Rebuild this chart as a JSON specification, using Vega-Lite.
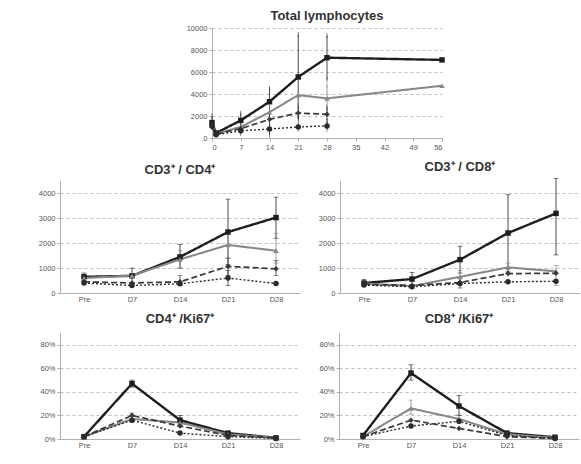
{
  "$schema": "https://vega.github.io/schema/vega-lite/v6.json",
  "padding": {"left": 38, "top": 10, "right": 0, "bottom": 0},
  "background": "white",
  "datasets": {
    "total": [
      {"series": "s1", "day": 0, "value": 1400, "lo": 1000, "hi": 2000},
      {"series": "s1", "day": 1, "value": 450},
      {"series": "s1", "day": 7, "value": 1600, "lo": 1000, "hi": 2250},
      {"series": "s1", "day": 14, "value": 3300, "lo": 2100, "hi": 4500},
      {"series": "s1", "day": 21, "value": 5550, "lo": 1800, "hi": 9400},
      {"series": "s1", "day": 28, "value": 7300, "lo": 5300, "hi": 9300},
      {"series": "s1", "day": 56, "value": 7100},
      {"series": "s2", "day": 0, "value": 1200},
      {"series": "s2", "day": 1, "value": 400},
      {"series": "s2", "day": 7, "value": 1000, "lo": 700, "hi": 1400},
      {"series": "s2", "day": 14, "value": 2350, "lo": 1500, "hi": 3100},
      {"series": "s2", "day": 21, "value": 3900, "lo": 3000, "hi": 4800},
      {"series": "s2", "day": 28, "value": 3600, "lo": 2400, "hi": 4800},
      {"series": "s2", "day": 56, "value": 4750},
      {"series": "s3", "day": 0, "value": 1000},
      {"series": "s3", "day": 1, "value": 350},
      {"series": "s3", "day": 7, "value": 850, "lo": 600, "hi": 1100},
      {"series": "s3", "day": 14, "value": 1700, "lo": 1100, "hi": 2300},
      {"series": "s3", "day": 21, "value": 2270, "lo": 1700, "hi": 2900},
      {"series": "s3", "day": 28, "value": 2150, "lo": 1600, "hi": 2800},
      {"series": "s4", "day": 0, "value": 1100},
      {"series": "s4", "day": 1, "value": 300},
      {"series": "s4", "day": 7, "value": 650, "lo": 400, "hi": 900},
      {"series": "s4", "day": 14, "value": 820, "lo": 300, "hi": 1300},
      {"series": "s4", "day": 21, "value": 1000, "lo": 800, "hi": 1300},
      {"series": "s4", "day": 28, "value": 1100, "lo": 800, "hi": 1500}
    ],
    "cd4": [
      {"series": "s1", "day": "Pre", "value": 650, "lo": 500, "hi": 800},
      {"series": "s1", "day": "D7", "value": 690, "lo": 400, "hi": 1000},
      {"series": "s1", "day": "D14", "value": 1450, "lo": 1000, "hi": 1950},
      {"series": "s1", "day": "D21", "value": 2450, "lo": 1150, "hi": 3770},
      {"series": "s1", "day": "D28", "value": 3030, "lo": 2200, "hi": 3850},
      {"series": "s2", "day": "Pre", "value": 600},
      {"series": "s2", "day": "D7", "value": 700},
      {"series": "s2", "day": "D14", "value": 1350, "lo": 1000, "hi": 1700},
      {"series": "s2", "day": "D21", "value": 1930, "lo": 1400, "hi": 2500},
      {"series": "s2", "day": "D28", "value": 1700, "lo": 1200, "hi": 2400},
      {"series": "s3", "day": "Pre", "value": 450},
      {"series": "s3", "day": "D7", "value": 400},
      {"series": "s3", "day": "D14", "value": 450, "lo": 300, "hi": 700},
      {"series": "s3", "day": "D21", "value": 1070, "lo": 700, "hi": 1400},
      {"series": "s3", "day": "D28", "value": 970, "lo": 700, "hi": 1300},
      {"series": "s4", "day": "Pre", "value": 400},
      {"series": "s4", "day": "D7", "value": 300},
      {"series": "s4", "day": "D14", "value": 370},
      {"series": "s4", "day": "D21", "value": 600, "lo": 300, "hi": 900},
      {"series": "s4", "day": "D28", "value": 380}
    ],
    "cd8": [
      {"series": "s1", "day": "Pre", "value": 400, "lo": 300, "hi": 550},
      {"series": "s1", "day": "D7", "value": 560, "lo": 300, "hi": 830},
      {"series": "s1", "day": "D14", "value": 1340, "lo": 800, "hi": 1880},
      {"series": "s1", "day": "D21", "value": 2410, "lo": 850, "hi": 3950},
      {"series": "s1", "day": "D28", "value": 3200, "lo": 1530, "hi": 4600},
      {"series": "s2", "day": "Pre", "value": 380},
      {"series": "s2", "day": "D7", "value": 280},
      {"series": "s2", "day": "D14", "value": 650, "lo": 300, "hi": 900},
      {"series": "s2", "day": "D21", "value": 1030, "lo": 800, "hi": 1200},
      {"series": "s2", "day": "D28", "value": 870, "lo": 300, "hi": 1100},
      {"series": "s3", "day": "Pre", "value": 350},
      {"series": "s3", "day": "D7", "value": 300},
      {"series": "s3", "day": "D14", "value": 420, "lo": 200, "hi": 600},
      {"series": "s3", "day": "D21", "value": 780},
      {"series": "s3", "day": "D28", "value": 790},
      {"series": "s4", "day": "Pre", "value": 320},
      {"series": "s4", "day": "D7", "value": 250},
      {"series": "s4", "day": "D14", "value": 380},
      {"series": "s4", "day": "D21", "value": 450},
      {"series": "s4", "day": "D28", "value": 470}
    ],
    "ki4": [
      {"series": "s1", "day": "Pre", "value": 0.02},
      {"series": "s1", "day": "D7", "value": 0.47, "lo": 0.44, "hi": 0.50},
      {"series": "s1", "day": "D14", "value": 0.16, "lo": 0.12, "hi": 0.20},
      {"series": "s1", "day": "D21", "value": 0.05},
      {"series": "s1", "day": "D28", "value": 0.01},
      {"series": "s2", "day": "Pre", "value": 0.02},
      {"series": "s2", "day": "D7", "value": 0.17, "lo": 0.14, "hi": 0.21},
      {"series": "s2", "day": "D14", "value": 0.14},
      {"series": "s2", "day": "D21", "value": 0.04},
      {"series": "s2", "day": "D28", "value": 0.01},
      {"series": "s3", "day": "Pre", "value": 0.02},
      {"series": "s3", "day": "D7", "value": 0.20, "lo": 0.17, "hi": 0.22},
      {"series": "s3", "day": "D14", "value": 0.11},
      {"series": "s3", "day": "D21", "value": 0.03},
      {"series": "s3", "day": "D28", "value": 0.01},
      {"series": "s4", "day": "Pre", "value": 0.02},
      {"series": "s4", "day": "D7", "value": 0.16},
      {"series": "s4", "day": "D14", "value": 0.05},
      {"series": "s4", "day": "D21", "value": 0.02},
      {"series": "s4", "day": "D28", "value": 0.005}
    ],
    "ki8": [
      {"series": "s1", "day": "Pre", "value": 0.03},
      {"series": "s1", "day": "D7", "value": 0.56, "lo": 0.50, "hi": 0.63},
      {"series": "s1", "day": "D14", "value": 0.28, "lo": 0.20, "hi": 0.37},
      {"series": "s1", "day": "D21", "value": 0.05},
      {"series": "s1", "day": "D28", "value": 0.015},
      {"series": "s2", "day": "Pre", "value": 0.02},
      {"series": "s2", "day": "D7", "value": 0.26, "lo": 0.21, "hi": 0.33},
      {"series": "s2", "day": "D14", "value": 0.17, "lo": 0.13, "hi": 0.21},
      {"series": "s2", "day": "D21", "value": 0.04},
      {"series": "s2", "day": "D28", "value": 0.01},
      {"series": "s3", "day": "Pre", "value": 0.02},
      {"series": "s3", "day": "D7", "value": 0.16},
      {"series": "s3", "day": "D14", "value": 0.09},
      {"series": "s3", "day": "D21", "value": 0.02},
      {"series": "s3", "day": "D28", "value": 0.005},
      {"series": "s4", "day": "Pre", "value": 0.02},
      {"series": "s4", "day": "D7", "value": 0.11},
      {"series": "s4", "day": "D14", "value": 0.15},
      {"series": "s4", "day": "D21", "value": 0.03},
      {"series": "s4", "day": "D28", "value": 0.005}
    ]
  },
  "config": {
    "view": {"stroke": null},
    "axis": {"labelFont": "Liberation Sans", "labelFontSize": 7.5, "labelColor": "#555555", "domainColor": "#b0b0b0", "tickColor": "#b0b0b0", "gridColor": "#bdbdbd", "gridDash": [3, 3], "tickSize": 3, "labelPadding": 2, "labelOverlap": false, "title": null},
    "title": {"font": "Liberation Sans", "fontSize": 13, "fontWeight": "bold", "color": "#333", "offset": 4},
    "line": {"strokeCap": "butt"}
  },
  "vconcat": [
    {
      "spacing": 0,
      "hconcat": [
        {"width": 126, "height": 10, "data": {"values": []}, "mark": "point"},
        {
          "title": {"text": "Total  lymphocytes", "offset": 1},
          "width": 230, "height": 110,
          "data": {"name": "total"},
          "encoding": {
            "x": {"field": "day", "type": "quantitative", "scale": {"domain": [0, 56], "nice": false}, "axis": {"values": [0, 7, 14, 21, 28, 35, 42, 49, 56], "grid": false}},
            "color": {"field": "series", "type": "nominal", "scale": {"domain": ["s1", "s2", "s3", "s4"], "range": ["#1e1e1e", "#888888", "#3a3a3a", "#2a2a2a"]}, "legend": null}
          },
          "layer": [
            {"transform": [{"filter": "isValid(datum.lo)"}], "mark": {"type": "rule", "strokeWidth": 0.8}, "encoding": {"y": {"field": "lo", "type": "quantitative", "scale": {"domain": [0, 10000], "nice": false}, "axis": {"values": [0, 2000, 4000, 6000, 8000, 10000], "format": "d"}}, "y2": {"field": "hi"}}},
            {"transform": [{"filter": "isValid(datum.lo)"}], "mark": {"type": "tick", "thickness": 0.8, "size": 5}, "encoding": {"y": {"field": "lo", "type": "quantitative", "axis": {"values": [0, 2000, 4000, 6000, 8000, 10000], "format": "d"}}}},
            {"transform": [{"filter": "isValid(datum.lo)"}], "mark": {"type": "tick", "thickness": 0.8, "size": 5}, "encoding": {"y": {"field": "hi", "type": "quantitative", "axis": {"values": [0, 2000, 4000, 6000, 8000, 10000], "format": "d"}}}},
            {"mark": {"type": "line"}, "encoding": {
              "y": {"field": "value", "type": "quantitative", "scale": {"domain": [0, 10000], "nice": false}, "axis": {"values": [0, 2000, 4000, 6000, 8000, 10000], "format": "d"}},
              "strokeDash": {"field": "series", "type": "nominal", "scale": {"domain": ["s1", "s2", "s3", "s4"], "range": [[1, 0], [1, 0], [6, 3], [2, 2]]}, "legend": null},
              "strokeWidth": {"field": "series", "type": "ordinal", "scale": {"domain": ["s1", "s2", "s3", "s4"], "range": [2.4, 1.4, 1.4, 1.4]}, "legend": null}
            }},
            {"mark": {"type": "point", "filled": true, "opacity": 1}, "encoding": {
              "y": {"field": "value", "type": "quantitative", "axis": {"values": [0, 2000, 4000, 6000, 8000, 10000], "format": "d"}},
              "shape": {"field": "series", "type": "nominal", "scale": {"domain": ["s1", "s2", "s3", "s4"], "range": ["square", "triangle-up", "diamond", "circle"]}, "legend": null},
              "size": {"value": 30}
            }}
          ]
        }
      ]
    },
    {
      "spacing": 18,
      "hconcat": [
        {
          "title": "CD3⁺ / CD4⁺",
          "width": 240, "height": 112,
          "data": {"name": "cd4"},
          "encoding": {
            "x": {"field": "day", "type": "ordinal", "sort": ["Pre", "D7", "D14", "D21", "D28"], "scale": {"type": "point", "padding": 0.5}, "axis": {"labelAngle": 0, "ticks": false, "grid": false}},
            "color": {"field": "series", "type": "nominal", "scale": {"domain": ["s1", "s2", "s3", "s4"], "range": ["#1e1e1e", "#888888", "#3a3a3a", "#2a2a2a"]}, "legend": null}
          },
          "layer": [
            {"transform": [{"filter": "isValid(datum.lo)"}], "mark": {"type": "rule", "strokeWidth": 0.8}, "encoding": {"y": {"field": "lo", "type": "quantitative", "scale": {"domain": [0, 4500], "nice": false}, "axis": {"values": [0, 1000, 2000, 3000, 4000], "format": "d"}}, "y2": {"field": "hi"}}},
            {"transform": [{"filter": "isValid(datum.lo)"}], "mark": {"type": "tick", "thickness": 0.8, "size": 5}, "encoding": {"y": {"field": "lo", "type": "quantitative", "axis": {"values": [0, 1000, 2000, 3000, 4000], "format": "d"}}}},
            {"transform": [{"filter": "isValid(datum.lo)"}], "mark": {"type": "tick", "thickness": 0.8, "size": 5}, "encoding": {"y": {"field": "hi", "type": "quantitative", "axis": {"values": [0, 1000, 2000, 3000, 4000], "format": "d"}}}},
            {"mark": {"type": "line"}, "encoding": {
              "y": {"field": "value", "type": "quantitative", "scale": {"domain": [0, 4500], "nice": false}, "axis": {"values": [0, 1000, 2000, 3000, 4000], "format": "d"}},
              "strokeDash": {"field": "series", "type": "nominal", "scale": {"domain": ["s1", "s2", "s3", "s4"], "range": [[1, 0], [1, 0], [6, 3], [2, 2]]}, "legend": null},
              "strokeWidth": {"field": "series", "type": "ordinal", "scale": {"domain": ["s1", "s2", "s3", "s4"], "range": [2.4, 1.4, 1.4, 1.4]}, "legend": null}
            }},
            {"mark": {"type": "point", "filled": true, "opacity": 1}, "encoding": {
              "y": {"field": "value", "type": "quantitative", "axis": {"values": [0, 1000, 2000, 3000, 4000], "format": "d"}},
              "shape": {"field": "series", "type": "nominal", "scale": {"domain": ["s1", "s2", "s3", "s4"], "range": ["square", "triangle-up", "diamond", "circle"]}, "legend": null},
              "size": {"value": 30}
            }}
          ]
        },
        {
          "title": "CD3⁺ / CD8⁺",
          "width": 240, "height": 112,
          "data": {"name": "cd8"},
          "encoding": {
            "x": {"field": "day", "type": "ordinal", "sort": ["Pre", "D7", "D14", "D21", "D28"], "scale": {"type": "point", "padding": 0.5}, "axis": {"labelAngle": 0, "ticks": false, "grid": false}},
            "color": {"field": "series", "type": "nominal", "scale": {"domain": ["s1", "s2", "s3", "s4"], "range": ["#1e1e1e", "#888888", "#3a3a3a", "#2a2a2a"]}, "legend": null}
          },
          "layer": [
            {"transform": [{"filter": "isValid(datum.lo)"}], "mark": {"type": "rule", "strokeWidth": 0.8}, "encoding": {"y": {"field": "lo", "type": "quantitative", "scale": {"domain": [0, 4500], "nice": false}, "axis": {"values": [0, 1000, 2000, 3000, 4000], "format": "d"}}, "y2": {"field": "hi"}}},
            {"transform": [{"filter": "isValid(datum.lo)"}], "mark": {"type": "tick", "thickness": 0.8, "size": 5}, "encoding": {"y": {"field": "lo", "type": "quantitative", "axis": {"values": [0, 1000, 2000, 3000, 4000], "format": "d"}}}},
            {"transform": [{"filter": "isValid(datum.lo)"}], "mark": {"type": "tick", "thickness": 0.8, "size": 5}, "encoding": {"y": {"field": "hi", "type": "quantitative", "axis": {"values": [0, 1000, 2000, 3000, 4000], "format": "d"}}}},
            {"mark": {"type": "line"}, "encoding": {
              "y": {"field": "value", "type": "quantitative", "scale": {"domain": [0, 4500], "nice": false}, "axis": {"values": [0, 1000, 2000, 3000, 4000], "format": "d"}},
              "strokeDash": {"field": "series", "type": "nominal", "scale": {"domain": ["s1", "s2", "s3", "s4"], "range": [[1, 0], [1, 0], [6, 3], [2, 2]]}, "legend": null},
              "strokeWidth": {"field": "series", "type": "ordinal", "scale": {"domain": ["s1", "s2", "s3", "s4"], "range": [2.4, 1.4, 1.4, 1.4]}, "legend": null}
            }},
            {"mark": {"type": "point", "filled": true, "opacity": 1}, "encoding": {
              "y": {"field": "value", "type": "quantitative", "axis": {"values": [0, 1000, 2000, 3000, 4000], "format": "d"}},
              "shape": {"field": "series", "type": "nominal", "scale": {"domain": ["s1", "s2", "s3", "s4"], "range": ["square", "triangle-up", "diamond", "circle"]}, "legend": null},
              "size": {"value": 30}
            }}
          ]
        }
      ]
    },
    {
      "spacing": 18,
      "hconcat": [
        {
          "title": {"text": "CD4⁺ /Ki67⁺", "offset": 7},
          "width": 240, "height": 106,
          "data": {"name": "ki4"},
          "encoding": {
            "x": {"field": "day", "type": "ordinal", "sort": ["Pre", "D7", "D14", "D21", "D28"], "scale": {"type": "point", "padding": 0.5}, "axis": {"labelAngle": 0, "ticks": false, "grid": false}},
            "color": {"field": "series", "type": "nominal", "scale": {"domain": ["s1", "s2", "s3", "s4"], "range": ["#1e1e1e", "#888888", "#3a3a3a", "#2a2a2a"]}, "legend": null}
          },
          "layer": [
            {"transform": [{"filter": "isValid(datum.lo)"}], "mark": {"type": "rule", "strokeWidth": 0.8}, "encoding": {"y": {"field": "lo", "type": "quantitative", "scale": {"domain": [0, 0.9], "nice": false}, "axis": {"values": [0, 0.2, 0.4, 0.6, 0.8], "format": ".0%"}}, "y2": {"field": "hi"}}},
            {"transform": [{"filter": "isValid(datum.lo)"}], "mark": {"type": "tick", "thickness": 0.8, "size": 5}, "encoding": {"y": {"field": "lo", "type": "quantitative", "axis": {"values": [0, 0.2, 0.4, 0.6, 0.8], "format": ".0%"}}}},
            {"transform": [{"filter": "isValid(datum.lo)"}], "mark": {"type": "tick", "thickness": 0.8, "size": 5}, "encoding": {"y": {"field": "hi", "type": "quantitative", "axis": {"values": [0, 0.2, 0.4, 0.6, 0.8], "format": ".0%"}}}},
            {"mark": {"type": "line"}, "encoding": {
              "y": {"field": "value", "type": "quantitative", "scale": {"domain": [0, 0.9], "nice": false}, "axis": {"values": [0, 0.2, 0.4, 0.6, 0.8], "format": ".0%"}},
              "strokeDash": {"field": "series", "type": "nominal", "scale": {"domain": ["s1", "s2", "s3", "s4"], "range": [[1, 0], [1, 0], [6, 3], [2, 2]]}, "legend": null},
              "strokeWidth": {"field": "series", "type": "ordinal", "scale": {"domain": ["s1", "s2", "s3", "s4"], "range": [2.4, 1.4, 1.4, 1.4]}, "legend": null}
            }},
            {"mark": {"type": "point", "filled": true, "opacity": 1}, "encoding": {
              "y": {"field": "value", "type": "quantitative", "axis": {"values": [0, 0.2, 0.4, 0.6, 0.8], "format": ".0%"}},
              "shape": {"field": "series", "type": "nominal", "scale": {"domain": ["s1", "s2", "s3", "s4"], "range": ["square", "triangle-up", "diamond", "circle"]}, "legend": null},
              "size": {"value": 30}
            }}
          ]
        },
        {
          "title": {"text": "CD8⁺ /Ki67⁺", "offset": 7},
          "width": 240, "height": 106,
          "data": {"name": "ki8"},
          "encoding": {
            "x": {"field": "day", "type": "ordinal", "sort": ["Pre", "D7", "D14", "D21", "D28"], "scale": {"type": "point", "padding": 0.5}, "axis": {"labelAngle": 0, "ticks": false, "grid": false}},
            "color": {"field": "series", "type": "nominal", "scale": {"domain": ["s1", "s2", "s3", "s4"], "range": ["#1e1e1e", "#888888", "#3a3a3a", "#2a2a2a"]}, "legend": null}
          },
          "layer": [
            {"transform": [{"filter": "isValid(datum.lo)"}], "mark": {"type": "rule", "strokeWidth": 0.8}, "encoding": {"y": {"field": "lo", "type": "quantitative", "scale": {"domain": [0, 0.9], "nice": false}, "axis": {"values": [0, 0.2, 0.4, 0.6, 0.8], "format": ".0%"}}, "y2": {"field": "hi"}}},
            {"transform": [{"filter": "isValid(datum.lo)"}], "mark": {"type": "tick", "thickness": 0.8, "size": 5}, "encoding": {"y": {"field": "lo", "type": "quantitative", "axis": {"values": [0, 0.2, 0.4, 0.6, 0.8], "format": ".0%"}}}},
            {"transform": [{"filter": "isValid(datum.lo)"}], "mark": {"type": "tick", "thickness": 0.8, "size": 5}, "encoding": {"y": {"field": "hi", "type": "quantitative", "axis": {"values": [0, 0.2, 0.4, 0.6, 0.8], "format": ".0%"}}}},
            {"mark": {"type": "line"}, "encoding": {
              "y": {"field": "value", "type": "quantitative", "scale": {"domain": [0, 0.9], "nice": false}, "axis": {"values": [0, 0.2, 0.4, 0.6, 0.8], "format": ".0%"}},
              "strokeDash": {"field": "series", "type": "nominal", "scale": {"domain": ["s1", "s2", "s3", "s4"], "range": [[1, 0], [1, 0], [6, 3], [2, 2]]}, "legend": null},
              "strokeWidth": {"field": "series", "type": "ordinal", "scale": {"domain": ["s1", "s2", "s3", "s4"], "range": [2.4, 1.4, 1.4, 1.4]}, "legend": null}
            }},
            {"mark": {"type": "point", "filled": true, "opacity": 1}, "encoding": {
              "y": {"field": "value", "type": "quantitative", "axis": {"values": [0, 0.2, 0.4, 0.6, 0.8], "format": ".0%"}},
              "shape": {"field": "series", "type": "nominal", "scale": {"domain": ["s1", "s2", "s3", "s4"], "range": ["square", "triangle-up", "diamond", "circle"]}, "legend": null},
              "size": {"value": 30}
            }}
          ]
        }
      ]
    }
  ],
  "spacing": 10
}
